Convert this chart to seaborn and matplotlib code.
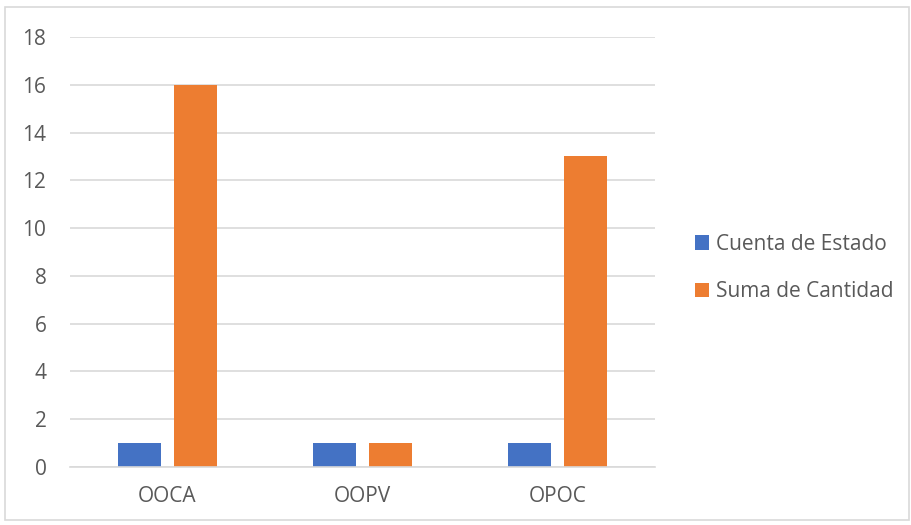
import matplotlib
matplotlib.use('Agg')
import matplotlib.pyplot as plt
import seaborn as sns
import pandas as pd
from matplotlib.patches import Rectangle

categories = ['OOCA', 'OOPV', 'OPOC']
cuenta_estado = [1, 1, 1]
suma_cantidad = [16, 1, 13]
series_names = ['Cuenta de Estado', 'Suma de Cantidad']
colors = ['#4472C4', '#ED7D31']

df = pd.DataFrame({
    'cat': categories * 2,
    'serie': [series_names[0]] * 3 + [series_names[1]] * 3,
    'valor': cuenta_estado + suma_cantidad,
})

sns.set_style('white')
plt.rcParams['font.family'] = ['Open Sans', 'DejaVu Sans']
text_color = '#595959'

fig = plt.figure(figsize=(9.11, 5.25), dpi=100)
ax = fig.add_axes([70 / 911, 1 - 467 / 525, 585 / 911, 430 / 525])

sns.barplot(data=df, x='cat', y='valor', hue='serie', palette=colors,
            width=0.574, gap=0.23, ax=ax, saturation=1, edgecolor='none')

ax.set_ylim(0, 18)
ax.set_yticks(range(0, 19, 2))
ax.set_xlim(-0.5, 2.5)
ax.yaxis.grid(True, color='#d9d9d9', linewidth=1.2)
ax.set_axisbelow(True)
for s in ['top', 'right', 'left']:
    ax.spines[s].set_visible(False)
ax.spines['bottom'].set_color('#d9d9d9')
ax.spines['bottom'].set_linewidth(1.2)
ax.tick_params(axis='both', length=0, labelsize=15, labelcolor=text_color)
ax.tick_params(axis='y', pad=17)
ax.tick_params(axis='x', pad=14)
ax.set_xlabel('')
ax.set_ylabel('')

handles, labels = ax.get_legend_handles_labels()
ax.legend(handles, labels, loc='center left', bbox_to_anchor=(687 / 911, 1 - 268 / 525),
          bbox_transform=fig.transFigure, frameon=False, fontsize=15,
          borderaxespad=0, borderpad=0.4,
          handlelength=0.67, handleheight=0.67, handletextpad=0.3, labelspacing=1.26,
          labelcolor=text_color)

fig.patches.append(Rectangle((5 / 911, 5 / 525), 904 / 911, 513 / 525,
                             transform=fig.transFigure, fill=False,
                             edgecolor='#d9d9d9', linewidth=1.2))

fig.savefig('out.png', dpi=100)
plt.close(fig)
